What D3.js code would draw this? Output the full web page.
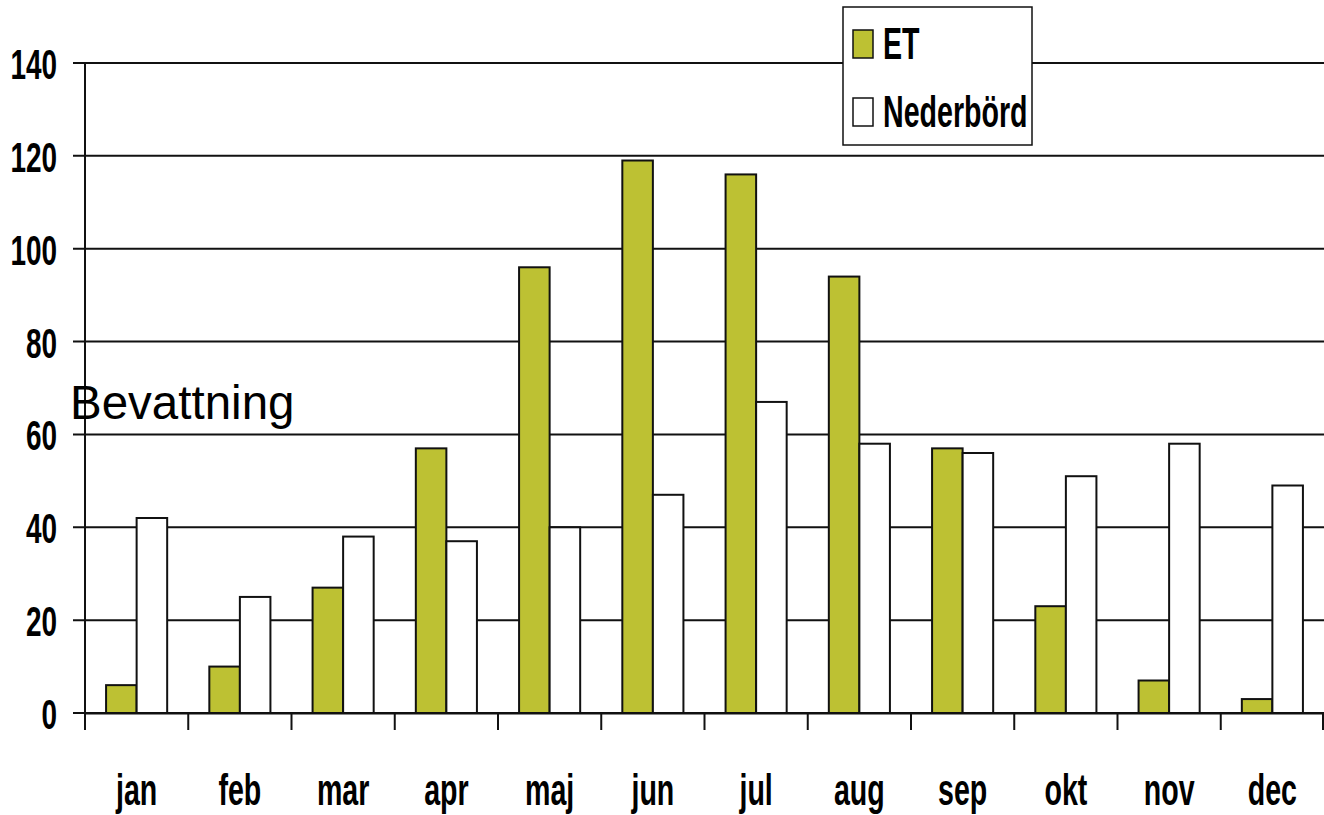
<!DOCTYPE html>
<html>
<head>
<style>
html, body { margin: 0; padding: 0; background: #fff; }
svg { display: block; }
text { font-family: "Liberation Sans Narrow", "Arial Narrow", "Liberation Sans", sans-serif; }
</style>
</head>
<body>
<svg width="1324" height="815"></svg>
<script src="https://cdnjs.cloudflare.com/ajax/libs/d3/7.8.5/d3.min.js"></script>
<script>
let months = ["jan", "feb", "mar", "apr", "maj", "jun", "jul", "aug", "sep", "okt", "nov", "dec"];
let seriesNames = ["ET", "Nederbörd"];
let et = [6, 10, 27, 57, 96, 119, 116, 94, 57, 23, 7, 3];
let nederbord = [42, 25, 38, 37, 40, 47, 67, 58, 56, 51, 58, 49];
let yTicks = [0, 20, 40, 60, 80, 100, 120, 140];

let colors = {"ET": "#bdc133", "Nederbörd": "#ffffff"};
let margin = {top: 63, right: 0, bottom: 102, left: 85};
let width = 1324, height = 815;
let sx = 0.65; // squeeze for the narrow bold labels

let data = months.map((m, i) => ({month: m, "ET": et[i], "Nederbörd": nederbord[i]}));

let svg = d3.select("svg");

let x0 = d3.scaleBand()
    .domain(months)
    .range([margin.left, width - margin.right])
    .padding(0);
let x1 = d3.scaleBand()
    .domain(seriesNames)
    .range([0, x0.bandwidth()])
    .paddingInner(0)
    .paddingOuter(0.69);
let y = d3.scaleLinear()
    .domain([0, 140])
    .range([height - margin.bottom, margin.top]);

// gridlines
svg.append("g")
    .selectAll("line")
    .data(yTicks)
    .join("line")
    .attr("x1", margin.left - 12)
    .attr("x2", width - margin.right)
    .attr("y1", d => y(d))
    .attr("y2", d => y(d))
    .attr("stroke", "#111")
    .attr("stroke-width", 2);

// y labels
svg.append("g")
    .selectAll("text")
    .data(yTicks)
    .join("text")
    .attr("transform", d => "translate(57," + (y(d) + 16) + ") scale(" + sx + ",1)")
    .attr("text-anchor", "end")
    .attr("font-size", 43)
    .attr("font-weight", "bold")
    .text(d => d);

// bars
svg.append("g")
    .selectAll("g")
    .data(data)
    .join("g")
    .attr("transform", d => "translate(" + x0(d.month) + ",0)")
    .selectAll("rect")
    .data(d => seriesNames.map(s => ({key: s, value: d[s]})))
    .join("rect")
    .attr("x", d => x1(d.key))
    .attr("width", x1.bandwidth())
    .attr("y", d => y(d.value))
    .attr("height", d => y(0) - y(d.value))
    .attr("fill", d => colors[d.key])
    .attr("stroke", "#111")
    .attr("stroke-width", 2);

// axes
let xAxis = d3.axisBottom(x0).tickSize(0).tickFormat("");
let gx = svg.append("g")
    .attr("transform", "translate(0," + y(0) + ")")
    .call(xAxis);
gx.select(".domain").attr("stroke", "#111").attr("stroke-width", 2);
gx.selectAll(".tick").remove();

svg.append("g")
    .selectAll("line")
    .data(months.concat(["end"]))
    .join("line")
    .attr("x1", (d, i) => i < months.length ? x0(d) : width - 1)
    .attr("x2", (d, i) => i < months.length ? x0(d) : width - 1)
    .attr("y1", y(0))
    .attr("y2", y(0) + 17)
    .attr("stroke", "#111")
    .attr("stroke-width", 2);

svg.append("line")
    .attr("x1", margin.left).attr("x2", margin.left)
    .attr("y1", y(140)).attr("y2", y(0) + 17)
    .attr("stroke", "#111")
    .attr("stroke-width", 2);

// month labels
svg.append("g")
    .selectAll("text")
    .data(months)
    .join("text")
    .attr("transform", d => "translate(" + (x0(d) + x0.bandwidth() / 2) + ",805) scale(" + sx + ",1)")
    .attr("text-anchor", "middle")
    .attr("font-size", 44)
    .attr("font-weight", "bold")
    .text(d => d);

// annotation
svg.append("text")
    .attr("x", 70)
    .attr("y", 419)
    .attr("font-size", 47.5)
    .style("font-family", "'Liberation Sans', Arial, sans-serif")
    .text("Bevattning");

// legend
let legend = svg.append("g");
legend.append("rect")
    .attr("x", 843).attr("y", 7)
    .attr("width", 189).attr("height", 138)
    .attr("fill", "#fff")
    .attr("stroke", "#111")
    .attr("stroke-width", 1.5);
let items = legend.selectAll("g.item")
    .data(seriesNames)
    .join("g")
    .attr("class", "item")
    .attr("transform", (d, i) => "translate(853," + (30 + i * 68) + ")");
items.append("rect")
    .attr("width", 20).attr("height", 28)
    .attr("fill", d => colors[d])
    .attr("stroke", "#111")
    .attr("stroke-width", 1.5);
items.append("text")
    .attr("transform", "translate(30,29) scale(" + sx + ",1)")
    .attr("font-size", 44)
    .attr("font-weight", "bold")
    .text(d => d);
</script>
</body>
</html>
